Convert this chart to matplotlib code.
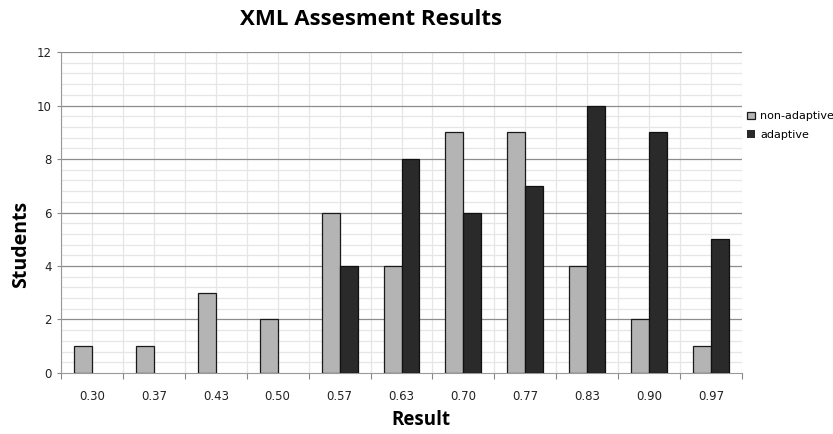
import matplotlib.pyplot as plt
import numpy as np
from matplotlib.ticker import MultipleLocator

categories = ['0.30', '0.37', '0.43', '0.50', '0.57', '0.63', '0.70', '0.77', '0.83', '0.90', '0.97']
non_adaptive = [1, 1, 3, 2, 6, 4, 9, 9, 4, 2, 1]
adaptive = [0, 0, 0, 0, 4, 8, 6, 7, 10, 9, 5]

fig = plt.figure(figsize=(8.33, 4.34), dpi=100)
ax = fig.add_axes([0.0732, 0.1406, 0.8176, 0.7394])

x = np.arange(len(categories))
w = 0.29
lw_na = [0.9 if v > 0 else 0 for v in non_adaptive]
lw_ad = [0.9 if v > 0 else 0 for v in adaptive]
ax.bar(x - w / 2, non_adaptive, w, color='#b4b4b4', edgecolor='#1a1a1a', linewidth=lw_na,
       label='non-adaptive', zorder=3)
ax.bar(x + w / 2, adaptive, w, color='#2a2a2a', edgecolor='#111111', linewidth=lw_ad,
       label='adaptive', zorder=3)

ax.set_xlim(-0.5, len(categories) - 0.5)
ax.set_ylim(0, 12)

# x ticks at category boundaries, labels at centres
ax.set_xticks(np.arange(-0.5, len(categories), 1))
ax.set_xticklabels([])
ax.set_xticks(x, minor=True)
ax.set_xticklabels(categories, minor=True, fontsize=8.5, color='#222222')
ax.tick_params(axis='x', which='major', length=4, color='#888888', direction='out')
ax.tick_params(axis='x', which='minor', length=0, pad=12)

ax.yaxis.set_major_locator(MultipleLocator(2))
ax.yaxis.set_minor_locator(MultipleLocator(0.4))
ax.tick_params(axis='y', which='major', length=3, color='#888888', labelsize=8.5,
               labelcolor='#222222')
ax.tick_params(axis='y', which='minor', length=0)

# grid lines
for yv in np.arange(0.4, 12.01, 0.4):
    if abs(yv / 2 - round(yv / 2)) < 1e-6:
        ax.axhline(yv, color='#8c8c8c', linewidth=0.9, zorder=1)
    else:
        ax.axhline(yv, color='#e6e6e6', linewidth=0.9, zorder=0.5)
for xv in np.arange(-0.5, len(categories), 0.5):
    ax.axvline(xv, color='#e6e6e6', linewidth=0.9, zorder=0.5)

for side in ['top', 'right']:
    ax.spines[side].set_visible(False)
ax.spines['left'].set_color('#999999')
ax.spines['bottom'].set_color('#999999')

ax.set_xlabel('Result', fontsize=13.5, fontweight='bold', family='Open Sans', va='center')
ax.xaxis.set_label_coords(0.529, -0.147)
ax.set_ylabel('Students', fontsize=14, fontweight='bold', family='Open Sans', va='center')
ax.yaxis.set_label_coords(-0.059, 0.40)

fig.text(0.445, 0.955, 'XML Assesment Results', ha='center', va='center',
         fontsize=16, fontweight='bold', family='Open Sans')

ax.legend(loc='upper left', bbox_to_anchor=(1.004, 0.822), frameon=False, fontsize=8,
          handlelength=0.7, handleheight=0.7, handletextpad=0.5, labelspacing=0.75,
          borderaxespad=0, borderpad=0.2)

fig.savefig('out.png', dpi=100)
